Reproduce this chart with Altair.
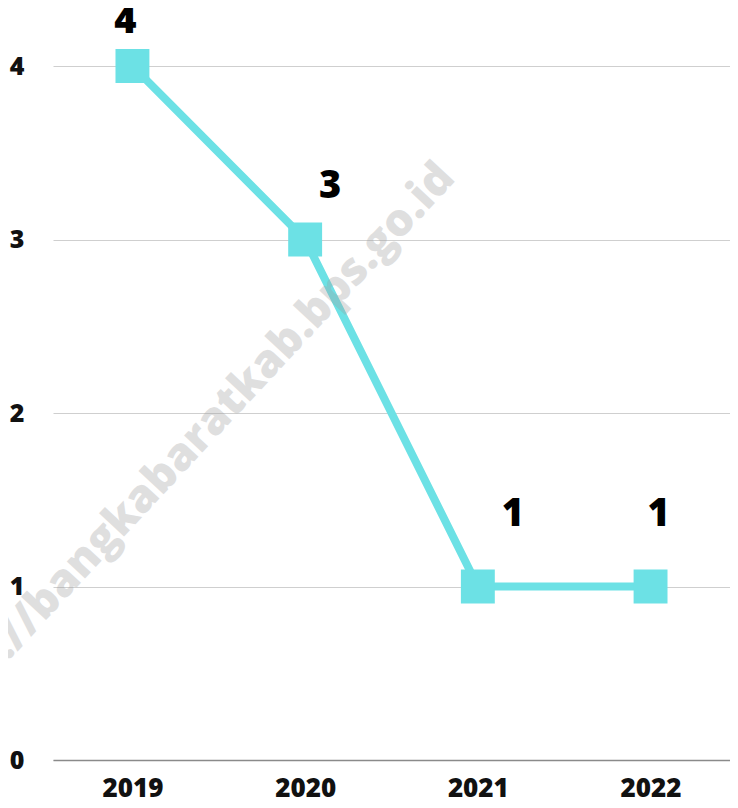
import altair as alt
import pandas as pd

years = ["2019", "2020", "2021", "2022"]
values = [4, 3, 1, 1]
label_dx = [-7, 25, 35, 8]
label_dy = [-44, -53, -72, -72]

df = pd.DataFrame({"year": years, "value": values})

FONT = "Open Sans"
COLOR = "#6ce1e5"

x = alt.X("year:N", scale=alt.Scale(type="point", padding=0.46),
          sort=years,
          axis=alt.Axis(title=None, labelAngle=0, labelFont=FONT, labelFontSize=26,
                        labelFontWeight=800, labelColor="#111111", labelPadding=15,
                        ticks=False, domain=True, domainColor="#8a8a8a", domainWidth=1.5,
                        grid=False))
y = alt.Y("value:Q", scale=alt.Scale(domain=[0, 4], nice=False),
          axis=alt.Axis(title=None, values=[0, 1, 2, 3, 4], format="d", labelFont=FONT,
                        labelFontSize=25, labelFontWeight=800, labelColor="#111111",
                        labelPadding=29, ticks=False, domain=False,
                        gridColor="#cfcfcf", gridWidth=1.2))

base = alt.Chart(df)

watermark = alt.Chart(pd.DataFrame({"t": ["https://bangkabaratkab.bps.go.id"]})).mark_text(
    font=FONT, fontSize=45, fontWeight=800, color="#a0a0a0", opacity=0.33, angle=313,
    align="center", baseline="middle"
).encode(x=alt.value(127), y=alt.value(390), text="t:N")

line = base.mark_line(color=COLOR, strokeWidth=8).encode(x=x, y=y)
pts = base.mark_square(color=COLOR, size=1150, opacity=1).encode(x=x, y=y)

labels = []
for yr, dx, dy in zip(years, label_dx, label_dy):
    labels.append(
        base.transform_filter(alt.datum.year == yr).mark_text(
            font=FONT, fontSize=38, fontWeight=800, color="#000000",
            dx=dx, dy=dy, align="center", baseline="middle"
        ).encode(x=x, y=y, text="value:Q")
    )

chart = alt.layer(line, pts, *labels, watermark).properties(
    width=677, height=694,
    background="white",
    autosize=alt.AutoSizeParams(type="none"),
    padding={"left": 45, "top": 58, "right": 0, "bottom": 40},
).configure_view(strokeWidth=0)

chart.save("out.html", embed_options={"renderer": "svg", "actions": False})
